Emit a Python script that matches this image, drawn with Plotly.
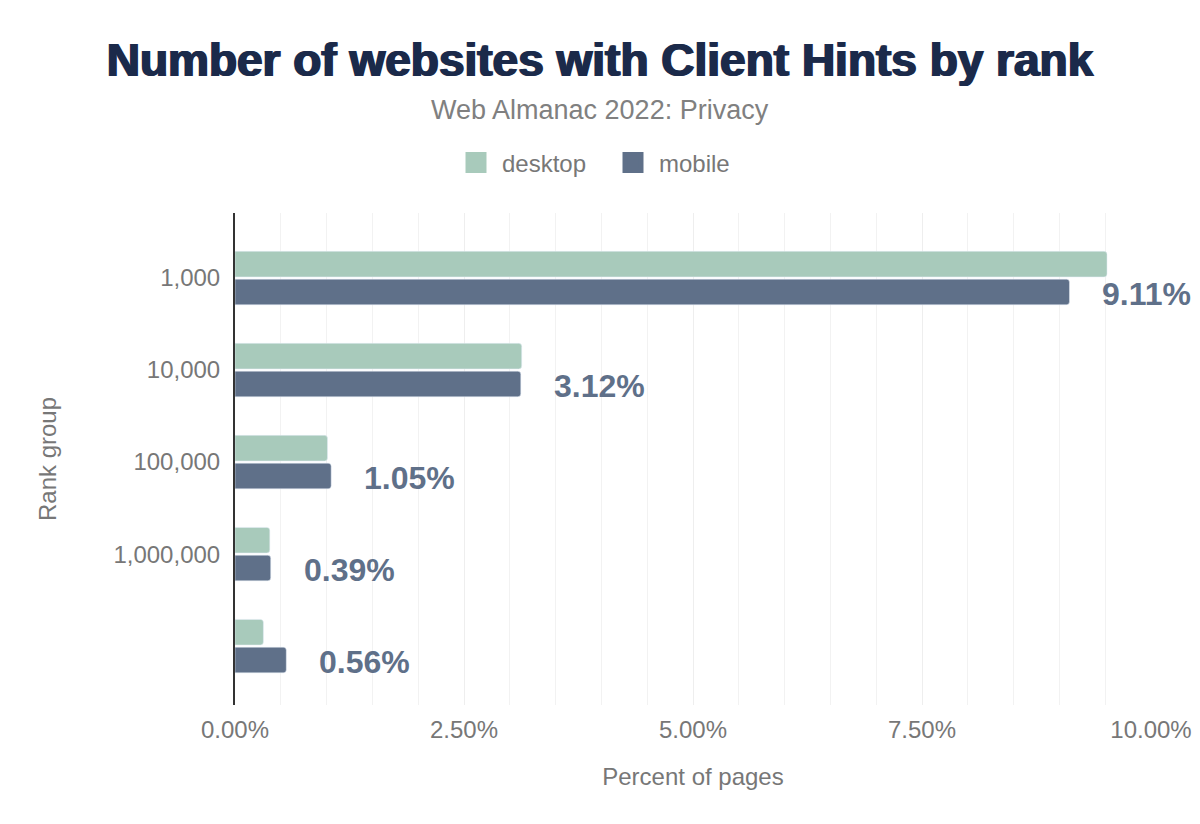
import plotly.graph_objects as go

categories = ["1,000", "10,000", "100,000", "1,000,000", "ALL"]
tick_labels = ["1,000", "10,000", "100,000", "1,000,000", ""]
desktop = [9.52, 3.13, 1.01, 0.38, 0.31]
mobile = [9.11, 3.12, 1.05, 0.39, 0.56]
mobile_labels = ["9.11%", "3.12%", "1.05%", "0.39%", "0.56%"]

DESKTOP_COLOR = "#a8cabb"
MOBILE_COLOR = "#5f7089"
TITLE_COLOR = "#1b2a4a"
GREY = "#777777"
FONT = "Liberation Sans, Arial, sans-serif"

PLOT_L, PLOT_R = 235, 1151  # plot area in page pixels
CENTER_X = (600 - PLOT_L) / (PLOT_R - PLOT_L)  # page centre in paper coords
LEGEND_X = (607 - PLOT_L) / (PLOT_R - PLOT_L)

fig = go.Figure()
fig.add_trace(go.Bar(
    y=categories, x=desktop, orientation="h", name="desktop",
    marker=dict(color=DESKTOP_COLOR), showlegend=False,
))
fig.add_trace(go.Bar(
    y=categories, x=mobile, orientation="h", name="mobile",
    marker=dict(color=MOBILE_COLOR), showlegend=False,
))
# legend entries (larger square symbols than bar legend swatches)
for nm, col in [("desktop", DESKTOP_COLOR), ("mobile", MOBILE_COLOR)]:
    fig.add_trace(go.Scatter(
        x=[None], y=[None], mode="markers", name=nm,
        marker=dict(symbol="square", size=16, color=col, line=dict(color=col, width=5)),
    ))

for cat, val, lab in zip(categories, mobile, mobile_labels):
    fig.add_annotation(
        x=val, y=cat, text=f"<b>{lab}</b>", showarrow=False,
        xanchor="left", yanchor="middle", xshift=31, yshift=-16,
        font=dict(family=FONT, size=32, color=MOBILE_COLOR),
    )

fig.add_annotation(
    text="Web Almanac 2022: Privacy", xref="paper", yref="paper",
    x=CENTER_X, y=1.209, xanchor="center", yanchor="middle", showarrow=False,
    font=dict(family=FONT, size=27, color="#808080"),
)

fig.update_layout(
    width=1200, height=824,
    paper_bgcolor="white", plot_bgcolor="white",
    margin=dict(l=PLOT_L, r=1200 - PLOT_R, t=213, b=119),
    barmode="group", bargap=0.395, bargroupgap=0.08,
    barcornerradius=3,
    title=dict(
        text="<b>Number of websites with Client Hints by rank</b>",
        x=0.5, xanchor="center", xref="container",
        y=0.927, yanchor="middle", yref="container",
        font=dict(family=FONT, size=46, color=TITLE_COLOR,
                  shadow="1px 0px 0px #1b2a4a, -1px 0px 0px #1b2a4a"),
    ),
    legend=dict(
        orientation="h", x=LEGEND_X, xanchor="center",
        y=1.1016, yanchor="middle",
        font=dict(family=FONT, size=24, color=GREY),
        itemwidth=42, entrywidth=100, entrywidthmode="pixels",
        traceorder="normal",
    ),
    font=dict(family=FONT, color=GREY),
)

fig.update_xaxes(
    range=[0, 10.0], dtick=2.5, tickformat=".2f", ticksuffix="%",
    showgrid=True, gridcolor="#eeeeee", gridwidth=1,
    minor=dict(dtick=0.5, showgrid=True, gridcolor="#f2f2f2", gridwidth=1),
    zeroline=False, showline=False, automargin=False,
    tickfont=dict(family=FONT, size=24, color=GREY),
    ticks="", ticklabelstandoff=8, tickangle=0,
    title=dict(text="Percent of pages", font=dict(family=FONT, size=24, color=GREY), standoff=26),
)
fig.update_yaxes(
    categoryorder="array", categoryarray=categories,
    tickmode="array", tickvals=categories, ticktext=tick_labels,
    range=[4.64, -0.707], automargin=False,
    showline=True, linecolor="#333333", linewidth=2,
    showgrid=False, zeroline=False, ticks="",
    tickfont=dict(family=FONT, size=24, color=GREY),
    ticklabelstandoff=8,
    title=dict(text="Rank group", font=dict(family=FONT, size=24, color=GREY), standoff=50),
)

fig.write_html("out.html", config={"displayModeBar": False},
               post_script="document.body.style.margin='0';")
